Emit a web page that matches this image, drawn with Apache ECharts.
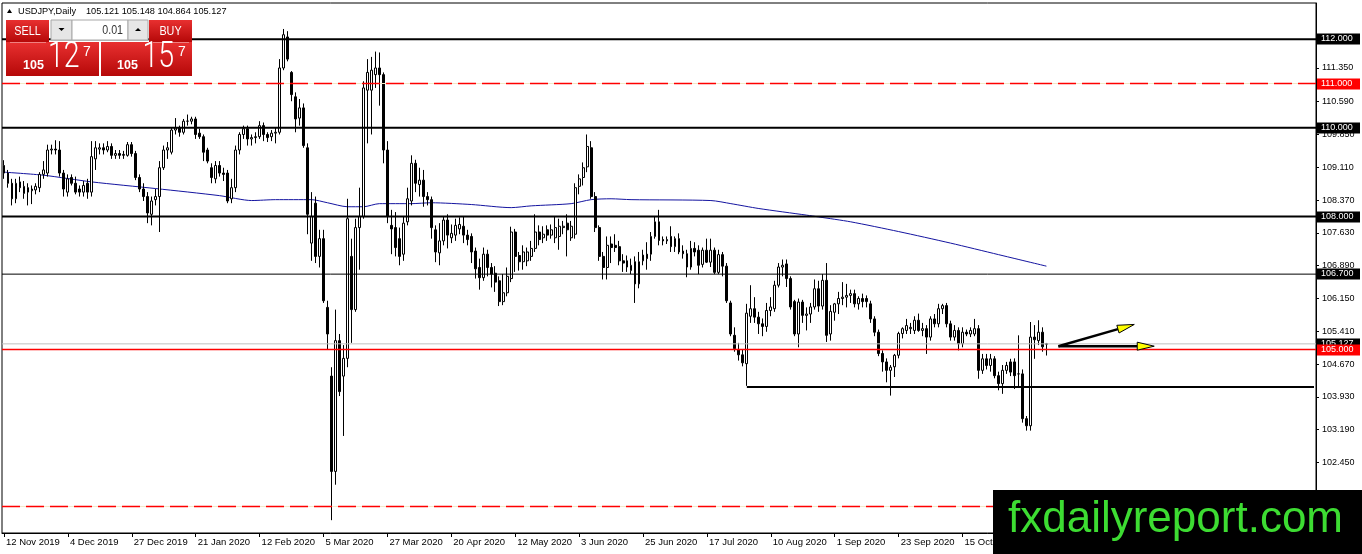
<!DOCTYPE html>
<html><head><meta charset="utf-8">
<script src="https://cdn.jsdelivr.net/npm/echarts@6/dist/echarts.min.js"></script>
<style>html,body{margin:0;padding:0;background:#fff;}#c{width:1362px;height:554px;}</style>
</head><body><div id="c"></div>
<script>
// ---- DATA: daily bars [open, high, low, close] ----
const nov2019 = [
[109.15,109.27,108.85,108.98],[108.98,109.05,108.65,108.75],[108.75,108.85,108.25,108.40],[108.40,108.85,108.30,108.75],
[108.78,108.90,108.55,108.65],[108.52,108.80,108.40,108.68],[108.65,108.75,108.25,108.55],[108.58,108.70,108.28,108.62],
[108.60,108.75,108.50,108.68],[108.65,109.00,108.55,108.95],[108.95,109.25,108.85,109.05],[108.98,109.62,108.90,109.50],
[109.50,109.62,109.40,109.52],[109.52,109.72,109.40,109.50]];
const dec2019 = [
[109.50,109.70,108.90,108.98],[108.98,109.05,108.45,108.62],[108.55,108.95,108.45,108.85],[108.88,108.95,108.70,108.75],
[108.75,108.90,108.50,108.55],[108.62,108.70,108.45,108.55],[108.55,108.80,108.45,108.70],[108.75,108.85,108.40,108.55],
[108.55,109.70,108.45,109.35],[109.30,109.70,109.05,109.55],[109.52,109.65,109.40,109.55],[109.55,109.65,109.40,109.50],
[109.50,109.70,109.45,109.58],[109.58,109.65,109.30,109.38],[109.38,109.50,109.30,109.42],[109.42,109.50,109.30,109.38],
[109.38,109.48,109.30,109.40],[109.38,109.68,109.35,109.62],[109.62,109.68,109.35,109.42],[109.42,109.48,108.82,108.88],
[108.88,108.95,108.55,108.62]];
const jan2020 = [
[108.62,108.75,108.35,108.45],[108.45,108.55,107.85,108.08],[108.05,108.45,107.80,108.35],[108.38,108.62,108.25,108.45],
[108.45,109.25,107.65,109.10],[109.10,109.60,109.05,109.50],[109.50,109.68,109.30,109.55],[109.45,110.00,109.40,109.95],
[109.95,110.22,109.85,110.00],[110.00,110.05,109.80,109.90],[109.90,110.20,109.85,110.15],[110.15,110.30,110.05,110.15],
[110.15,110.25,110.08,110.20],[110.20,110.25,109.75,109.85],[109.88,109.98,109.75,109.80],[109.80,109.85,109.25,109.45],
[109.50,109.55,109.20,109.25],[109.10,109.20,108.75,108.88],[108.85,109.25,108.75,109.15],[109.15,109.25,108.90,108.98],
[108.98,109.10,108.80,108.95],[108.98,109.05,108.30,108.35]];
const feb2020 = [
[108.40,108.85,108.30,108.65],[108.65,109.60,108.55,109.50],[109.50,109.90,109.40,109.85],[109.85,110.05,109.75,109.98],
[109.98,110.05,109.60,109.75],[109.75,109.85,109.60,109.78],[109.78,109.90,109.65,109.80],[109.80,110.15,109.75,110.05],
[110.05,110.12,109.70,109.85],[109.85,109.90,109.68,109.78],[109.80,109.95,109.70,109.88],[109.88,110.00,109.65,109.90],
[109.90,111.55,109.85,111.35],[111.35,112.23,111.30,112.10],[112.05,112.18,111.50,111.55],[111.25,111.28,110.60,110.75],
[110.70,110.80,109.90,110.20],[110.22,110.65,110.05,110.45],[110.45,110.55,109.55,109.60],[109.55,109.65,107.60,108.05]];
const mar2020 = [
[107.40,108.55,107.00,108.00],[108.30,108.45,106.95,107.10],[107.10,107.70,106.85,107.50],[107.50,107.70,106.05,106.10],
[105.95,106.10,105.00,105.35],[104.40,104.60,101.15,102.25],[102.25,105.90,101.95,105.20],[105.20,105.35,103.95,104.05],
[104.40,105.10,103.05,104.80],[104.80,108.40,104.60,107.95],[107.10,107.50,105.15,105.90],[105.90,107.95,105.85,107.75],
[107.75,108.65,106.80,108.00],[108.00,111.05,107.95,110.90],[110.85,111.55,109.65,111.25],[110.85,111.60,109.85,111.30],
[111.20,111.72,110.90,111.35],[111.35,111.70,110.50,111.20],[111.20,111.25,109.20,109.50],[109.50,109.70,107.85,108.00],
[107.80,108.15,107.15,107.72],[107.75,108.10,107.10,107.30]];
const apr2020 = [
[107.50,107.75,106.90,107.10],[107.15,108.00,107.00,107.85],[107.88,108.65,107.80,108.40],[108.35,109.38,108.25,109.20],
[109.20,109.28,108.55,108.75],[108.72,109.10,108.45,108.82],[108.82,109.05,108.22,108.45],[108.45,108.55,108.25,108.38],
[108.38,108.45,107.50,107.75],[107.70,107.80,106.97,107.20],[107.18,107.85,106.90,107.45],[107.45,108.00,107.35,107.92],
[107.92,108.05,107.28,107.58],[107.52,107.82,107.40,107.62],[107.58,107.95,107.45,107.80],[107.72,107.98,107.60,107.82],
[107.78,108.00,107.40,107.58],[107.58,107.70,107.35,107.48],[107.55,107.62,106.95,107.20],[107.22,107.30,106.60,106.82],
[106.85,107.05,106.35,106.62],[106.62,107.30,106.55,107.15]];
const may2020 = [
[107.15,107.25,106.65,106.85],[106.85,106.95,106.40,106.70],[106.72,106.88,106.30,106.52],[106.55,106.65,105.98,106.08],
[106.08,106.70,106.00,106.28],[106.28,106.85,106.20,106.65],[106.60,107.77,106.52,107.65],[107.65,107.72,106.75,107.10],
[107.12,107.20,106.78,106.98],[106.98,107.35,106.80,107.20],[107.00,107.30,106.88,107.20],[107.10,107.45,107.00,107.28],
[107.28,108.05,107.20,107.65],[107.65,107.80,107.35,107.48],[107.52,107.78,107.40,107.60],[107.70,107.80,107.45,107.58],
[107.58,107.82,107.50,107.70],[107.52,108.00,107.40,107.75],[107.55,107.95,107.25,107.78],[107.75,107.90,107.60,107.78],
[107.85,108.05,107.10,107.70]];
const jun2020 = [
[107.52,107.90,107.45,107.78],[107.60,108.75,107.50,108.65],[108.68,108.95,108.50,108.85],[108.88,109.22,108.70,109.10],
[109.12,109.85,109.00,109.58],[109.55,109.70,108.40,108.45],[108.45,108.55,107.65,107.75],[107.75,107.80,107.00,107.10],
[107.10,107.20,106.58,106.85],[106.85,107.55,106.58,107.35],[107.38,107.55,106.95,107.30],[107.35,107.60,107.20,107.30],
[107.32,107.45,106.90,107.00],[107.00,107.15,106.75,106.95],[107.00,107.12,106.75,106.86],[106.78,107.05,106.70,106.90],
[106.98,107.10,106.05,106.48],[106.48,107.20,106.38,106.98],[107.00,107.25,106.90,107.13],[107.15,107.42,106.80,107.05],
[107.15,107.65,107.00,107.55],[107.55,108.00,107.50,107.88]];
const jul2020 = [
[107.88,108.15,107.35,107.46],[107.48,107.55,107.35,107.45],[107.45,107.55,107.38,107.48],[107.55,107.78,107.20,107.32],
[107.32,107.55,107.20,107.50],[107.50,107.62,107.15,107.20],[107.22,107.35,107.05,107.16],[107.16,107.25,106.63,106.86],
[106.86,107.45,106.80,107.28],[107.28,107.42,107.10,107.20],[107.24,107.35,106.70,106.90],[106.92,107.30,106.85,107.24],
[107.24,107.50,106.95,106.97],[106.97,107.50,106.86,107.24],[107.24,107.30,106.70,106.74],[106.74,107.25,106.70,107.14],
[107.14,107.20,106.65,106.88],[106.88,106.95,106.05,106.10],[106.05,106.10,105.30,105.35],[105.32,105.50,104.95,105.02],
[105.00,105.15,104.75,104.88],[104.88,105.00,104.62,104.70],[104.68,106.03,104.18,105.82]];
const aug2020 = [
[105.75,106.45,105.60,105.92],[105.92,106.18,105.60,105.73],[105.73,105.85,105.35,105.58],[105.58,105.70,105.30,105.52],
[105.52,106.05,105.40,105.88],[105.88,106.18,105.75,105.96],[105.92,106.55,105.85,106.45],[106.45,106.95,106.40,106.86],
[106.86,107.03,106.65,106.90],[106.93,107.03,106.41,106.60],[106.60,106.65,105.90,105.96],[106.08,106.12,105.30,105.35],
[105.35,106.15,105.05,106.07],[106.07,106.12,105.60,105.77],[105.77,105.95,105.43,105.80],[105.80,106.05,105.60,105.96],
[105.96,106.58,105.90,106.37],[106.37,106.55,105.85,105.98],[105.98,106.70,105.90,106.56],[106.56,106.95,105.17,105.32],
[105.35,106.00,105.20,105.86]];
const sep2020 = [
[105.84,106.05,105.65,106.03],[106.03,106.30,105.80,106.15],[106.15,106.52,106.00,106.18],[106.18,106.48,105.95,106.22],
[106.22,106.35,106.05,106.26],[106.26,106.35,105.95,106.03],[106.03,106.20,105.90,106.15],[106.15,106.26,105.95,106.08],
[106.15,106.22,105.95,106.08],[106.03,106.10,105.60,105.69],[105.69,105.75,105.30,105.39],[105.39,105.45,104.85,104.91],
[104.91,104.98,104.50,104.72],[104.72,104.80,104.26,104.53],[104.53,104.65,103.96,104.60],[104.61,104.90,104.38,104.87],
[104.87,105.40,104.80,105.36],[105.36,105.50,105.25,105.47],[105.43,105.69,105.35,105.54],[105.47,105.60,105.35,105.50],
[105.43,105.75,105.35,105.66],[105.66,105.81,105.40,105.43]];
const oct2020 = [
[105.43,105.60,105.30,105.47],[105.47,105.55,104.90,105.28],[105.28,105.75,105.20,105.69],[105.69,105.80,105.50,105.58],
[105.58,106.03,105.50,105.92],[105.92,106.03,105.80,105.99],[105.99,106.05,105.50,105.58],[105.58,105.65,105.20,105.28],
[105.28,105.55,105.20,105.43],[105.43,105.50,104.98,105.13],[105.13,105.50,105.05,105.39],[105.39,105.45,105.30,105.35],
[105.35,105.50,105.28,105.43],[105.35,105.69,105.30,105.47],[105.47,105.55,104.34,104.53],[104.53,104.90,104.45,104.79],
[104.79,104.90,104.55,104.64],[104.64,104.90,104.50,104.79],[104.79,104.85,104.35,104.41],[104.41,104.50,104.08,104.23],
[104.23,104.65,104.00,104.53],[104.53,104.72,104.45,104.64]];
const nov2020 = [
[104.72,104.79,104.40,104.49],[104.72,104.80,104.11,104.41],[104.45,105.32,104.15,104.45],[104.45,104.55,103.35,103.44],
[103.44,103.50,103.17,103.28],[103.28,105.62,103.17,105.28],[105.28,105.55,104.79,105.22],[105.20,105.66,105.10,105.39],
[105.39,105.50,104.95,105.06],[105.121,105.148,104.864,105.127]];

const tickLabels = ['12 Nov 2019','4 Dec 2019','27 Dec 2019','21 Jan 2020','12 Feb 2020','5 Mar 2020','27 Mar 2020',
  '20 Apr 2020','12 May 2020','3 Jun 2020','25 Jun 2020','17 Jul 2020','10 Aug 2020','1 Sep 2020','23 Sep 2020','15 Oct 2020','6 Nov 2020'];
const priceTicks = [102.45,103.19,103.93,104.67,105.41,106.15,106.89,107.63,108.37,109.11,109.85,110.59,111.35];

// moving average (bar index, value)
const maIndex  = [0,10,22,38,54,62,68,77,81,86,90,94,102,107,117,127,132,142,147,152,157,177,182,189,201,204,212,224,237,249,261];
const maValues = [109.00,108.93,108.78,108.63,108.47,108.36,108.38,108.38,108.31,108.22,108.22,108.29,108.29,108.31,108.27,108.20,
  108.24,108.29,108.38,108.40,108.38,108.36,108.29,108.18,108.03,107.99,107.88,107.66,107.40,107.14,106.88];

// horizontal levels: kind 0=red dashed, 1=thick black, 2=thin black, 3=bid (grey), 4=red solid
const levelPrices = [111, 101.46, 112, 110, 108, 106.7, 105.127, 105];
const levelKinds  = [0, 0, 1, 1, 1, 2, 3, 4];
const levelBadges = [1, 0, 1, 1, 1, 1, 1, 1];
const supportLevel = 104.15, supportFrom = 186;
const askPrice = 105.157;
const lotSize = '0.01';
const symbolName = 'USDJPY,Daily';
const arrowFrom = [264, 105.075];
const arrowTo = [[283, 105.565], [288, 105.075]];
const watermark = 'fxdailyreport.com';

// ---- BUILD ----
const F = "'Liberation Sans', Arial, sans-serif";
const nSlots = 329;
const bars = [].concat(nov2019, dec2019, jan2020, feb2020, mar2020, apr2020, may2020, jun2020, jul2020, aug2020, sep2020, oct2020, nov2020);
const candleData = bars.map(b => [b[0], b[3], b[2], b[1]]);
const last = bars[bars.length - 1];
const bidPrice = last[3];
const slots = Array.from({length: nSlots}, (_, i) => String(i));

const KIND_STYLE = [
  {stroke: '#ff0000', lineWidth: 1.6, lineDash: [18, 6], under: '#f3e7c6', badge: '#ff0000'},
  {stroke: '#000000', lineWidth: 2, lineDash: null, badge: '#000000'},
  {stroke: '#000000', lineWidth: 1, lineDash: null, badge: '#000000'},
  {stroke: '#c0c0c0', lineWidth: 1, lineDash: null, badge: '#000000'},
  {stroke: '#ff0000', lineWidth: 1.6, lineDash: null, badge: '#ff0000'}
];
const levelData = levelPrices.map((v, k) => [v, levelKinds[k], levelBadges[k]]);

function parts(p) { const s = p.toFixed(3); return [s.slice(0, 3), s.slice(4, 6), s.slice(6)]; }
const sp = parts(bidPrice), bp = parts(askPrice);
const redGrad = () => new echarts.graphic.LinearGradient(0, 0, 0, 1, [{offset: 0, color: '#e83030'}, {offset: 1, color: '#b50808'}]);

const Z = 100;
const graphics = [
  {type: 'polygon', z: Z, shape: {points: [[7, 13], [12, 13], [9.5, 9]]}, style: {fill: '#000'}},
  {type: 'text', z: Z, x: 18, y: 11, style: {text: symbolName, fill: '#000', font: '9.2px ' + F, verticalAlign: 'middle'}},
  {type: 'text', z: Z, x: 86, y: 11, style: {text: last.map(v => v.toFixed(3)).join(' '), fill: '#000', font: '9.2px ' + F, verticalAlign: 'middle'}},
  {type: 'rect', z: Z, shape: {x: 6, y: 20, width: 43, height: 22}, style: {fill: redGrad()}},
  {type: 'text', z: Z + 1, x: 27.5, y: 31, scaleX: 0.8, style: {text: 'SELL', fill: '#fff', font: '13.5px ' + F, align: 'center', verticalAlign: 'middle'}},
  {type: 'rect', z: Z, shape: {x: 51, y: 20, width: 21, height: 20}, style: {fill: '#e6e6e6', stroke: '#a8a8a8', lineWidth: 1}},
  {type: 'polygon', z: Z + 1, shape: {points: [[58.5, 28], [64.5, 28], [61.5, 31]]}, style: {fill: '#000'}},
  {type: 'rect', z: Z, shape: {x: 72, y: 20, width: 56, height: 20}, style: {fill: '#fff', stroke: '#a8a8a8', lineWidth: 1}},
  {type: 'text', z: Z + 1, x: 123, y: 30, scaleX: 0.82, style: {text: lotSize, fill: '#333', font: '13px ' + F, align: 'right', verticalAlign: 'middle'}},
  {type: 'rect', z: Z, shape: {x: 128, y: 20, width: 20, height: 20}, style: {fill: '#e6e6e6', stroke: '#a8a8a8', lineWidth: 1}},
  {type: 'polygon', z: Z + 1, shape: {points: [[135, 31], [141, 31], [138, 28]]}, style: {fill: '#000'}},
  {type: 'rect', z: Z, shape: {x: 149, y: 20, width: 43, height: 22}, style: {fill: redGrad()}},
  {type: 'text', z: Z + 1, x: 170.5, y: 31, scaleX: 0.8, style: {text: 'BUY', fill: '#fff', font: '13.5px ' + F, align: 'center', verticalAlign: 'middle'}},
  {type: 'rect', z: Z, shape: {x: 6, y: 42, width: 93, height: 34}, style: {fill: redGrad()}},
  {type: 'rect', z: Z, shape: {x: 101, y: 42, width: 91, height: 34}, style: {fill: redGrad()}},
  {type: 'line', z: Z + 1, shape: {x1: 10, y1: 42.5, x2: 46, y2: 42.5}, style: {stroke: '#f08080', lineWidth: 1}},
  {type: 'line', z: Z + 1, shape: {x1: 153, y1: 42.5, x2: 189, y2: 42.5}, style: {stroke: '#f08080', lineWidth: 1}},
  {type: 'text', z: Z + 1, x: 23, y: 65.5, style: {text: sp[0], fill: '#fff', font: 'bold 12.5px ' + F, verticalAlign: 'middle'}},
  {type: 'text', z: Z + 1, x: 48, y: 57.5, scaleX: 0.77, style: {text: sp[1], fill: '#fff', font: '300 37px Roboto, ' + F, verticalAlign: 'middle'}},
  {type: 'text', z: Z + 1, x: 83, y: 52, style: {text: sp[2], fill: '#fff', font: '14px ' + F, verticalAlign: 'middle'}},
  {type: 'text', z: Z + 1, x: 117, y: 65.5, style: {text: bp[0], fill: '#fff', font: 'bold 12.5px ' + F, verticalAlign: 'middle'}},
  {type: 'text', z: Z + 1, x: 142.5, y: 57.5, scaleX: 0.77, style: {text: bp[1], fill: '#fff', font: '300 37px Roboto, ' + F, verticalAlign: 'middle'}},
  {type: 'text', z: Z + 1, x: 178, y: 52, style: {text: bp[2], fill: '#fff', font: '14px ' + F, verticalAlign: 'middle'}},
  {type: 'rect', z: Z, shape: {x: 993, y: 490, width: 369, height: 64}, style: {fill: '#000'}},
  {type: 'text', z: Z + 1, x: 1008, y: 520, style: {text: watermark, fill: '#3ddc32', font: '44px ' + F, verticalAlign: 'middle'}}
];

const chart = echarts.init(document.getElementById('c'), null, {renderer: 'canvas'});
chart.setOption({
  animation: false,
  backgroundColor: '#fff',
  grid: {left: 2, right: 46, top: 3, bottom: 21, show: true, borderColor: '#000', borderWidth: 1, backgroundColor: '#fff'},
  xAxis: {
    type: 'category', data: slots, boundaryGap: true,
    axisLine: {lineStyle: {color: '#000', width: 1}},
    axisTick: {show: true, interval: 15, alignWithLabel: true, length: 4, lineStyle: {color: '#000'}},
    axisLabel: {interval: 15, align: 'left', margin: 4, color: '#000', fontSize: 9.5, fontFamily: F, padding: [0, 0, 0, 2],
      formatter: (v, idx) => (idx % 16 === 0 && tickLabels[idx / 16]) || ''},
    splitLine: {show: false}
  },
  yAxis: {
    type: 'value', position: 'right', min: 100.8609, max: 112.8158,
    axisLine: {show: true, lineStyle: {color: '#000'}},
    axisTick: {show: true, length: 3, customValues: priceTicks, lineStyle: {color: '#000'}},
    axisLabel: {customValues: priceTicks, formatter: v => v.toFixed(3), margin: 6, color: '#000', fontSize: 9, fontFamily: F},
    splitLine: {show: false}
  },
  series: [
    {
      type: 'line', data: maIndex.map((i, k) => [i, maValues[k]]), showSymbol: false, symbol: 'none',
      smooth: 0.25, lineStyle: {color: '#1414a0', width: 1}, z: 1, silent: true
    },
    {
      type: 'candlestick', data: candleData, barWidth: 2.4, z: 2, silent: true,
      itemStyle: {color: '#fff', color0: '#000', borderColor: '#000', borderColor0: '#000', borderWidth: 1}
    },
    {
      type: 'line', data: [], z: 3, silent: true,
      markLine: {symbol: ['none', 'none'], silent: true, animation: false,
        data: [[{coord: [supportFrom, supportLevel], lineStyle: {color: '#000', width: 2, type: 'solid'}, label: {show: false}},
                {coord: [nSlots - 1, supportLevel]}]]}
    },
    {
      type: 'custom', data: levelData, encode: {y: 0}, clip: false, silent: true, z: 4,
      renderItem: (params, api) => {
        const cs = params.coordSys;
        const v = api.value(0), st = KIND_STYLE[api.value(1)];
        const y = api.coord([0, v])[1];
        const x1 = cs.x, x2 = cs.x + cs.width;
        const children = [];
        if (st.under) children.push({type: 'line', shape: {x1, y1: y, x2, y2: y}, style: {stroke: st.under, lineWidth: 1}});
        children.push({type: 'line', shape: {x1, y1: y, x2, y2: y}, style: {stroke: st.stroke, lineWidth: st.lineWidth, lineDash: st.lineDash}});
        if (api.value(2)) {
          children.push({type: 'rect', shape: {x: x2 + 1, y: Math.round(y) - 5.5, width: 43, height: 11}, style: {fill: st.badge}});
          children.push({type: 'text', x: x2 + 5, y: Math.round(y), style: {text: v.toFixed(3), fill: '#fff', font: '9px ' + F, verticalAlign: 'middle'}});
        }
        return {type: 'group', children};
      }
    },
    {
      type: 'custom', data: arrowTo.map(t => [arrowFrom[0], arrowFrom[1], t[0], t[1]]),
      encode: {x: [0, 2], y: [1, 3]}, clip: false, silent: true, z: 5,
      renderItem: (params, api) => {
        const p0 = api.coord([api.value(0), api.value(1)]);
        const p1 = api.coord([api.value(2), api.value(3)]);
        const dx = p1[0] - p0[0], dy = p1[1] - p0[1], L = Math.hypot(dx, dy), ux = dx / L, uy = dy / L;
        const hl = 17, hw = 4;
        const bx = p1[0] - ux * hl, by = p1[1] - uy * hl;
        return {type: 'group', children: [
          {type: 'line', shape: {x1: p0[0], y1: p0[1], x2: bx, y2: by}, style: {stroke: '#000', lineWidth: 2.5}},
          {type: 'polygon', shape: {points: [[p1[0], p1[1]], [bx - uy * hw, by + ux * hw], [bx + uy * hw, by - ux * hw]]},
            style: {fill: '#ffff00', stroke: '#000', lineWidth: 1}}
        ]};
      }
    }
  ],
  graphic: {elements: graphics}
});
</script>
</body></html>
